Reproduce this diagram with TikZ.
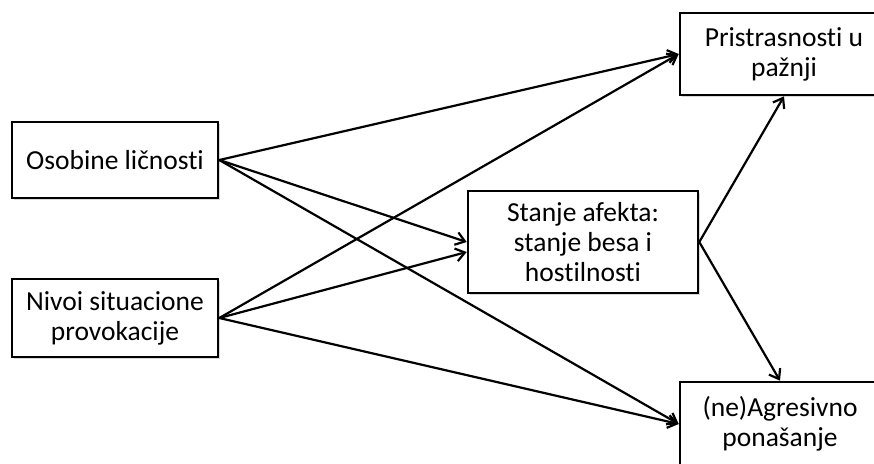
\documentclass[tikz,border=0pt]{standalone}
\usepackage{fontspec}
\setmainfont[Ligatures=NoCommon]{Carlito}
\usetikzlibrary{arrows.meta,shadows}
\tikzset{
  kutija/.style={draw, line width=1.3pt, fill=white, align=center,
    font=\fontsize{13.75}{15}\selectfont,
    drop shadow={shadow xshift=1pt, shadow yshift=-1pt, opacity=0.3}},
  strelica/.style={line width=1.1pt, -{Straight Barb[length=4.5pt,width=6.5pt]}}
}
\begin{document}
\begin{tikzpicture}[x=0.5pt, y=-0.5pt]
            \useasboundingbox (0,0) rectangle (874,463);
            %kutije
            \node[kutija, minimum width=103pt, minimum height=38pt] (osobine) at (115,160) {Osobine ličnosti};
            \node[kutija, minimum width=103pt, minimum height=39pt] (nivoi) at (115,318) {Nivoi situacione\\provokacije};
            \node[kutija, minimum width=115pt, minimum height=51pt] (afekt) at (583,242) {Stanje afekta:\\stanje besa i\\hostilnosti};
            \node[kutija, minimum width=104pt, minimum height=41pt] (paznja) at (784,54) {Pristrasnosti u\\pažnji};
            \node[kutija, minimum width=100pt, minimum height=42pt] (agresija) at (780,424) {(ne)Agresivno\\ponašanje};
            %strelice
            \draw[strelica] (osobine.east) -- (paznja.west);
            \draw[strelica] (osobine.east) -- (afekt.west);
            \draw[strelica] (osobine.east) -- (agresija.west);
            \draw[strelica] (nivoi.east) -- (paznja.west);
            \draw[strelica] (nivoi.east) -- ([yshift=-5pt]afekt.west);
            \draw[strelica] (nivoi.east) -- (agresija.west);
            \draw[strelica] (afekt.east) -- (paznja.south);
            \draw[strelica] (afekt.east) -- (agresija.north);
\end{tikzpicture}
\end{document}
